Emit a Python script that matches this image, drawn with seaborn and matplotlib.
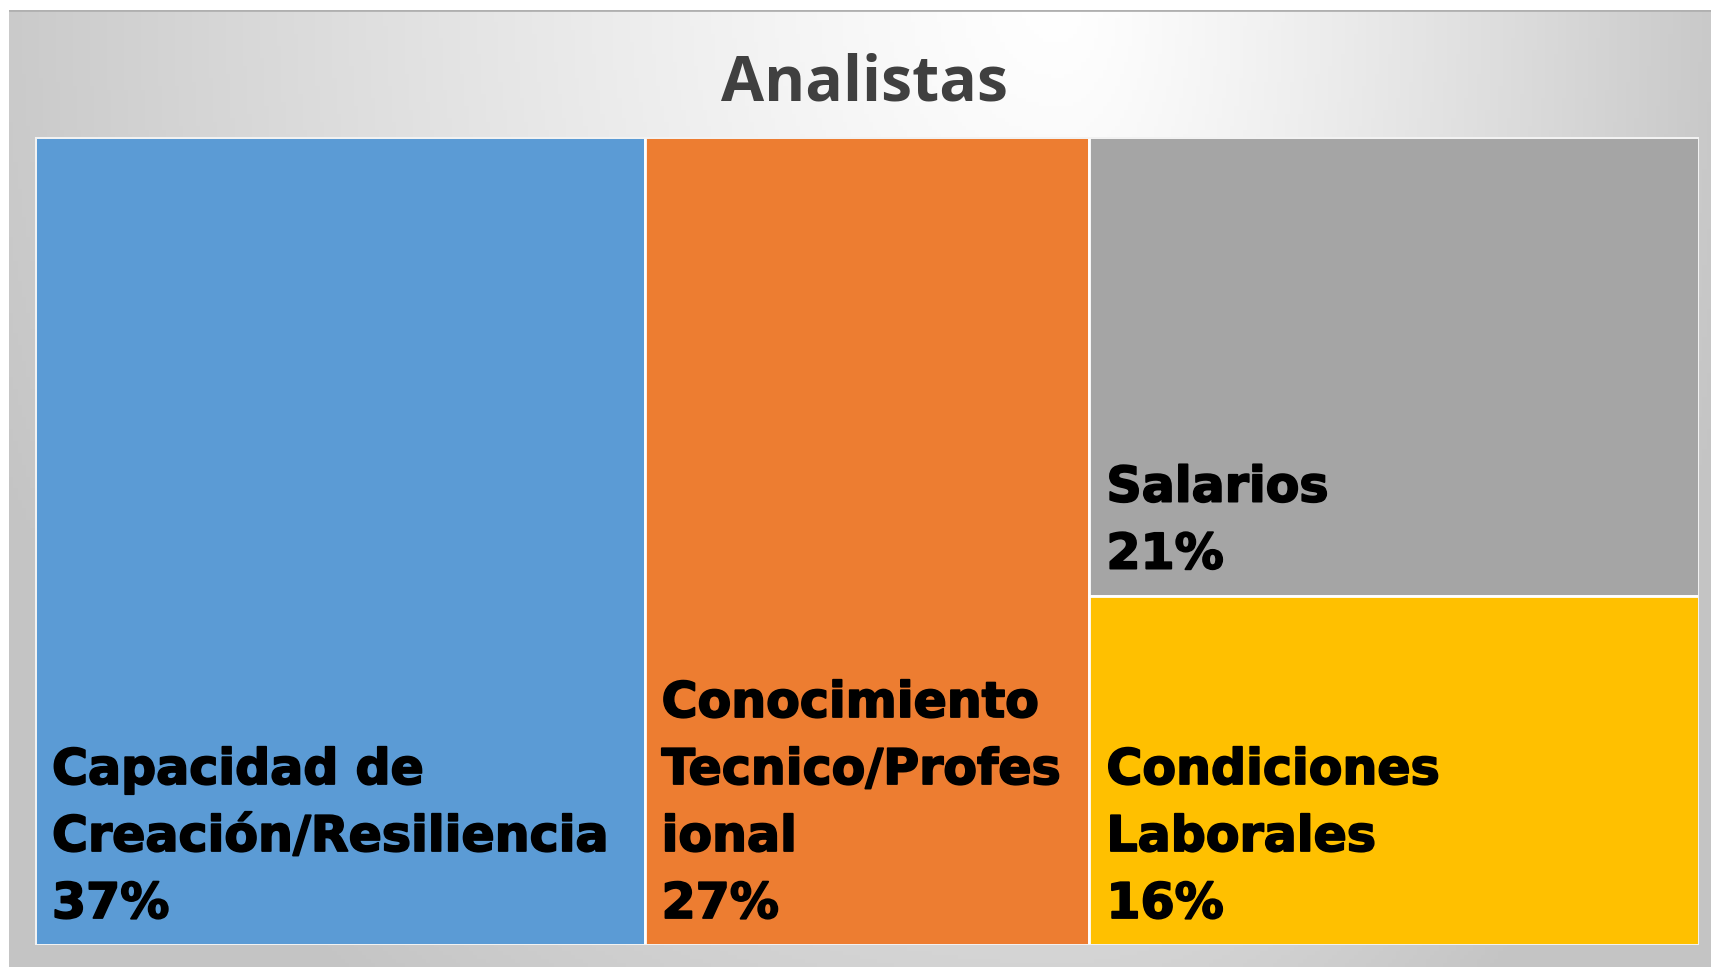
import numpy as np
import matplotlib
matplotlib.use("Agg")
import matplotlib.pyplot as plt
from matplotlib.patches import Rectangle
import matplotlib.patheffects as pe
import seaborn as sns

# ---- data ----
title = "Analistas"
categories = ["Capacidad de\nCreación/Resiliencia", "Conocimiento\nTecnico/Profes\nional",
              "Salarios", "Condiciones\nLaborales"]
values = [37, 27, 21, 16]
colors = ["#5B9BD5", "#ED7D31", "#A5A5A5", "#FFC000"]

sns.set_theme(style="white")
plt.rcParams["font.family"] = ["DejaVu Sans"]

W, H = 1711, 967
fig = plt.figure(figsize=(W / 100, H / 100), dpi=100)
fig.patch.set_facecolor("white")

# background panel with gradient
bg = fig.add_axes([9 / W, 0, 1 - 9 / W, 1 - 10 / H])
bg.set_axis_off()
nx, ny = 400, 240
xs = np.linspace(9, W, nx)
ys = np.linspace(10, H, ny)
X, Y = np.meshgrid(xs, ys)
cx, cy = 1060, 0
rx = np.where(X < cx, 1150, 700)
ry = 1250
D = np.sqrt(((X - cx) / rx) ** 2 + ((Y - cy) / ry) ** 2)
D = np.clip(D, 0, 1)
g = 1.0 - 0.23 * D ** 1.2
img = np.dstack([g, g, g])
bg.imshow(img, extent=[0, 1, 0, 1], aspect="auto", origin="upper")
bg.set_xlim(0, 1)
bg.set_ylim(0, 1)
bg.plot([0, 1], [1, 1], color="#b0b0b0", lw=2)

# treemap axes
x0, x1, y0, y1 = 35, 1699, 137, 945
ax = fig.add_axes([x0 / W, (H - y1) / H, (x1 - x0) / W, (y1 - y0) / H])
ax.set_axis_off()
total = sum(values)
ax.set_xlim(0, total)
ax.set_ylim(0, 1)

# slice-and-dice layout: first two as columns, last two stacked in a column
rects = []
xpos = 0
for v in values[:2]:
    rects.append((xpos, 0, v, 1))
    xpos += v
rest = sum(values[2:])
wcol = total - xpos
ypos = 1
for v in values[2:]:
    h = v / rest
    ypos -= h
    rects.append((xpos, ypos, wcol, h))

for (rx0, ry0, rw, rh), c, cat, v in zip(rects, colors, categories, values):
    ax.add_patch(Rectangle((rx0, ry0), rw, rh, facecolor=c, edgecolor="white", lw=2))
    ax.annotate(f"{cat}\n{v}%", xy=(rx0, ry0), xytext=(17, 17), textcoords="offset pixels",
                ha="left", va="bottom", fontsize=35.3, fontweight="bold", color="black",
                linespacing=1.5,
                path_effects=[pe.withStroke(linewidth=1.3, foreground="black")])

ax.add_patch(Rectangle((0, 0), total, 1, facecolor="none", edgecolor="#f2f2f2", lw=2))

fig.text(865 / W, 1 - 84 / H, title, ha="center", va="center", fontsize=45,
         fontweight="bold", color="#404040", family=["Open Sans", "DejaVu Sans"])

fig.savefig("out.png", dpi=100)
